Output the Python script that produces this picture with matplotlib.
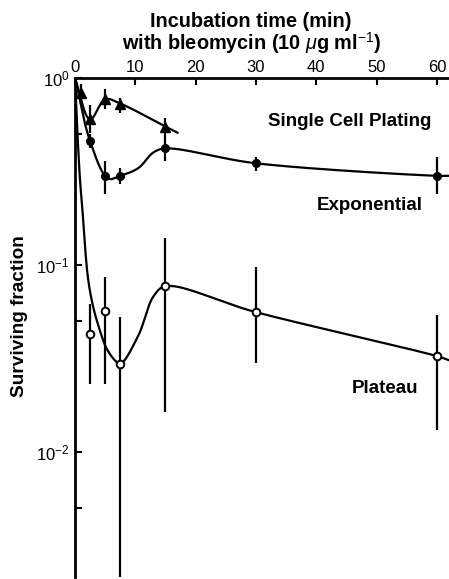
import numpy as np
import matplotlib
matplotlib.use("Agg")
import matplotlib.pyplot as plt

plt.rcParams['font.family'] = ['Liberation Sans', 'DejaVu Sans']
plt.rcParams['mathtext.fontset'] = 'custom'
plt.rcParams['mathtext.rm'] = 'Liberation Sans'
plt.rcParams['mathtext.it'] = 'Liberation Sans:italic'
plt.rcParams['mathtext.bf'] = 'Liberation Sans:bold'

# measured points (time in min, surviving fraction, error bar low / high)
plating_t = [1, 2.5, 5, 7.5, 15]
plating_sf = [0.83, 0.60, 0.77, 0.73, 0.55]
plating_lo = [0.73, 0.51, 0.68, 0.65, 0.50]
plating_hi = [0.93, 0.72, 0.87, 0.78, 0.61]

expo_t = [2.5, 5, 7.5, 15, 30, 60]
expo_sf = [0.46, 0.30, 0.30, 0.42, 0.35, 0.30]
expo_lo = [0.42, 0.24, 0.27, 0.36, 0.32, 0.24]
expo_hi = [0.50, 0.36, 0.33, 0.50, 0.38, 0.38]

plateau_t = [2.5, 5, 7.5, 15, 30, 60]
plateau_sf = [0.043, 0.057, 0.0296, 0.077, 0.056, 0.0326]
plateau_lo = [0.023, 0.023, 0.002, 0.0164, 0.030, 0.0132]
plateau_hi = [0.062, 0.086, 0.053, 0.14, 0.098, 0.054]

# hand-drawn fitted curves
plating_fit_t = [0, 2.5, 5, 7.5, 15, 17]
plating_fit_sf = [1.0, 0.60, 0.77, 0.73, 0.55, 0.51]

expo_fit_t = [0, 2.5, 5.5, 7.5, 10.5, 13, 15, 30, 60, 62]
expo_fit_sf = [1.0, 0.46, 0.29, 0.30, 0.33, 0.40, 0.42, 0.35, 0.30, 0.30]

plateau_fit_t = [0, 0.35, 0.83, 1.27, 1.66, 2.2, 3.0, 4.1, 5.2, 6.6, 7.5,
                 10.5, 13.0, 15, 30, 60, 62]
plateau_fit_sf = [1.0, 0.55, 0.285, 0.19, 0.125, 0.083, 0.060, 0.045, 0.036,
                  0.031, 0.0296, 0.042, 0.068, 0.077, 0.056, 0.0326, 0.031]

XMAX = 62
YMIN = 0.00215
# rough axis size in pixels, used only to make the curve smoothing isotropic
AX_W, AX_H = 374, 499


def catmull_rom(tk, sk, n=40):
    """centripetal Catmull-Rom through the knots, done in axes-pixel space"""
    px = np.asarray(tk, float) / XMAX * AX_W
    py = np.log10(np.asarray(sk, float)) / -np.log10(YMIN) * AX_H
    P = np.column_stack([px, py])
    P = np.vstack([2 * P[0] - P[1], P, 2 * P[-1] - P[-2]])
    out = []
    for i in range(1, len(P) - 2):
        p0, p1, p2, p3 = P[i - 1], P[i], P[i + 1], P[i + 2]
        t0 = 0.0
        t1 = t0 + np.linalg.norm(p1 - p0) ** 0.5
        t2 = t1 + np.linalg.norm(p2 - p1) ** 0.5
        t3 = t2 + np.linalg.norm(p3 - p2) ** 0.5
        t = np.linspace(t1, t2, n)[:, None]
        a1 = (t1 - t) / (t1 - t0) * p0 + (t - t0) / (t1 - t0) * p1
        a2 = (t2 - t) / (t2 - t1) * p1 + (t - t1) / (t2 - t1) * p2
        a3 = (t3 - t) / (t3 - t2) * p2 + (t - t2) / (t3 - t2) * p3
        b1 = (t2 - t) / (t2 - t0) * a1 + (t - t0) / (t2 - t0) * a2
        b2 = (t3 - t) / (t3 - t1) * a2 + (t - t1) / (t3 - t1) * a3
        c = (t2 - t) / (t2 - t1) * b1 + (t - t1) / (t2 - t1) * b2
        out.append(c)
    c = np.vstack(out)
    xs = c[:, 0] / AX_W * XMAX
    ys = 10 ** (c[:, 1] / AX_H * -np.log10(YMIN))
    return xs, ys


fig = plt.figure(figsize=(4.49, 5.79), dpi=100)
ax = fig.add_axes([75 / 449, 2 / 579, 374 / 449, 499 / 579])

lw = 1.6
for tk, sk in [(plating_fit_t, plating_fit_sf), (expo_fit_t, expo_fit_sf),
               (plateau_fit_t, plateau_fit_sf)]:
    xs, ys = catmull_rom(tk, sk)
    ax.plot(xs, ys, color='black', lw=lw, zorder=2)

ax.vlines(plating_t, plating_lo, plating_hi, color='black', lw=lw, zorder=2)
ax.vlines(expo_t, expo_lo, expo_hi, color='black', lw=lw, zorder=2)
ax.vlines(plateau_t, plateau_lo, plateau_hi, color='black', lw=lw, zorder=2)

ax.plot(plating_t, plating_sf, ls='none', marker='^', ms=7, color='black', zorder=3)
ax.plot(expo_t, expo_sf, ls='none', marker='o', ms=5.5, color='black', zorder=3)
ax.plot(plateau_t, plateau_sf, ls='none', marker='o', ms=5.5, mfc='white',
        mec='black', mew=1.4, zorder=3)

ax.set_yscale('log')
ax.set_xlim(0, XMAX)
ax.set_ylim(YMIN, 1.0)

for side in ['right', 'bottom']:
    ax.spines[side].set_visible(False)
for side in ['left', 'top']:
    ax.spines[side].set_linewidth(2)

ax.xaxis.tick_top()
ax.set_xticks([0, 10, 20, 30, 40, 50, 60])
ax.tick_params(axis='x', direction='in', length=5, width=1.5, pad=2, labelsize=12)
ax.set_yticks([1, 0.1, 0.01])
ax.set_yticklabels([r'$10^0$', r'$10^{-1}$', r'$10^{-2}$'])
ax.set_yticks([0.5, 0.05, 0.005], minor=True)
ax.set_yticklabels([], minor=True)
ax.tick_params(axis='y', which='both', direction='in', length=5, width=1.5,
               pad=4, labelsize=12)

fig.text(251 / 449, 1 - 12 / 579, 'Incubation time (min)', ha='center', va='top',
         fontsize=14.3, fontweight='bold')
fig.text(252 / 449, 1 - 30 / 579, r'with bleomycin (10 $\mu$g ml$^{-1}$)',
         ha='center', va='top', fontsize=14.3, fontweight='bold')
fig.text(20 / 449, 1 - 316 / 579, 'Surviving fraction', rotation=90,
         ha='center', va='center', fontsize=13.7, fontweight='bold')

ax.text(59.0, 0.554, 'Single Cell Plating', ha='right', va='baseline',
        fontsize=13.5, fontweight='bold')
ax.text(57.7, 0.197, 'Exponential', ha='right', va='baseline',
        fontsize=13.5, fontweight='bold')
ax.text(56.9, 0.0207, 'Plateau', ha='right', va='baseline',
        fontsize=13.5, fontweight='bold')

fig.savefig('out.png', dpi=100)
